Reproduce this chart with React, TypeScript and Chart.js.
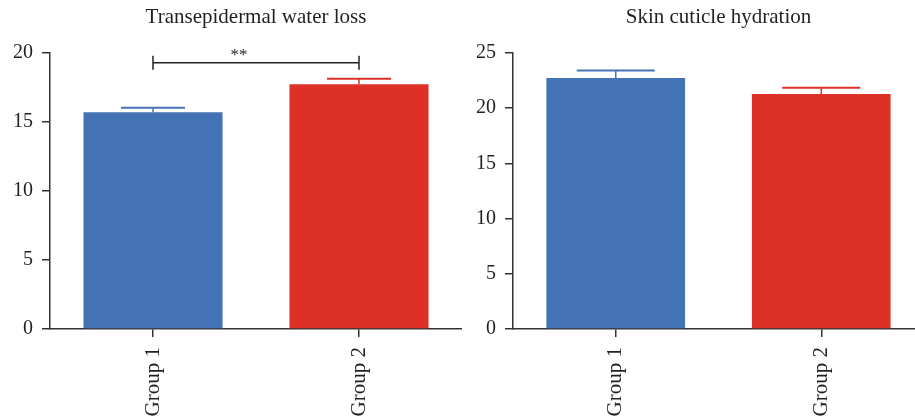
import React, { useEffect, useRef } from 'react';
import { Chart, registerables } from 'chart.js';

Chart.register(...registerables);

// ---- data ----
const groups = ['Group 1', 'Group 2'];
const twlMeans = [15.7, 17.73];
const twlErrors = [0.34, 0.41];
const twlMax = 20;
const hydrationMeans = [22.73, 21.28];
const hydrationErrors = [0.69, 0.57];
const hydrationMax = 25;
const tickStep = 5;
const twlSignificance = { from: 0, to: 1, value: 19.3, label: '**' };

const barColors = ['#4373b4', '#dd3128'];
const axisColor = '#333333';
const textColor = '#231f20';
const fontFamily = "'Liberation Serif', 'DejaVu Serif', serif";

const errorBarPlugin = {
  id: 'errorBars',
  afterDatasetsDraw(chart: any, _args: any, opts: any) {
    const errs: number[] = opts.errors || [];
    if (!errs.length) return;
    const { ctx } = chart;
    const meta = chart.getDatasetMeta(0);
    const yScale = chart.scales.y;
    const vals = chart.data.datasets[0].data as number[];
    ctx.save();
    meta.data.forEach((bar: any, i: number) => {
      const x = bar.x;
      const yv = yScale.getPixelForValue(vals[i]);
      const ye = yScale.getPixelForValue(vals[i] + errs[i]);
      const half = (opts.capWidth || 60) / 2;
      ctx.strokeStyle = opts.colors[i];
      ctx.lineWidth = 1.5;
      ctx.beginPath();
      ctx.moveTo(x, yv);
      ctx.lineTo(x, ye);
      ctx.stroke();
      ctx.lineWidth = 2;
      ctx.beginPath();
      ctx.moveTo(x - half, ye);
      ctx.lineTo(x + half, ye);
      ctx.stroke();
    });
    ctx.restore();
  },
};

const significancePlugin = {
  id: 'significance',
  afterDatasetsDraw(chart: any, _args: any, opts: any) {
    if (!opts || !opts.label) return;
    const { ctx } = chart;
    const xScale = chart.scales.x;
    const yScale = chart.scales.y;
    const x1 = xScale.getPixelForValue(opts.from);
    const x2 = xScale.getPixelForValue(opts.to);
    const y = yScale.getPixelForValue(opts.value);
    const t = 7;
    ctx.save();
    ctx.strokeStyle = '#222';
    ctx.lineWidth = 1.5;
    ctx.beginPath();
    ctx.moveTo(x1, y);
    ctx.lineTo(x2, y);
    ctx.moveTo(x1, y - t);
    ctx.lineTo(x1, y + t);
    ctx.moveTo(x2, y - t);
    ctx.lineTo(x2, y + t);
    ctx.stroke();
    ctx.fillStyle = textColor;
    ctx.font = `17px ${fontFamily}`;
    ctx.textAlign = 'center';
    ctx.textBaseline = 'middle';
    ctx.fillText(opts.label, (x1 + x2) / 2 - 17, y - 7);
    ctx.restore();
  },
};

function makeConfig(title: string, values: number[], errors: number[], max: number, yWidth: number, capWidth: number, sig: any) {
  return {
    type: 'bar',
    data: {
      labels: groups,
      datasets: [
        {
          data: values,
          backgroundColor: barColors,
          borderWidth: 0,
          categoryPercentage: 1,
          barPercentage: 0.675,
        },
      ],
    },
    plugins: [errorBarPlugin, significancePlugin],
    options: {
      animation: false,
      responsive: false,
      layout: { padding: { left: 0, right: 0, top: 0, bottom: 0 } },
      plugins: {
        legend: { display: false },
        tooltip: { enabled: false },
        title: {
          display: true,
          text: title,
          fullSize: false,
          color: textColor,
          font: { family: fontFamily, size: 21, weight: 'normal', lineHeight: 1.2 },
          padding: { top: 5, bottom: 22.8 },
        },
        errorBars: { errors, capWidth, colors: barColors },
        significance: sig || {},
      },
      scales: {
        x: {
          z: 1,
          grid: {
            display: true,
            offset: false,
            drawOnChartArea: false,
            drawTicks: true,
            tickLength: 8,
            tickColor: axisColor,
            lineWidth: 1.5,
          },
          border: { display: true, color: axisColor, width: 1.5 },
          ticks: {
            minRotation: 90,
            maxRotation: 90,
            padding: 10,
            color: textColor,
            font: { family: fontFamily, size: 21 },
          },
          afterFit: (scale: any) => {
            scale.height = 90;
          },
        },
        y: {
          min: 0,
          max,
          grid: {
            display: true,
            drawOnChartArea: false,
            drawTicks: true,
            tickLength: 8,
            tickColor: axisColor,
            lineWidth: 1.5,
          },
          border: { display: true, color: axisColor, width: 1.5 },
          ticks: {
            stepSize: tickStep,
            padding: 9,
            color: textColor,
            font: { family: fontFamily, size: 20 },
          },
          afterFit: (scale: any) => {
            scale.width = yWidth;
          },
        },
      },
    },
  } as any;
}

function BarPanel(props: { config: any; left: number; width: number }) {
  const ref = useRef<HTMLCanvasElement | null>(null);
  useEffect(() => {
    if (!ref.current) return;
    const chart = new Chart(ref.current, props.config);
    return () => chart.destroy();
  }, []);
  return (
    <canvas
      ref={ref}
      width={props.width}
      height={419}
      style={{ position: 'absolute', left: props.left, top: 0, width: props.width, height: 419 }}
    />
  );
}

export default function App() {
  const left = makeConfig('Transepidermal water loss', twlMeans, twlErrors, twlMax, 50, 64, twlSignificance);
  const right = makeConfig('Skin cuticle hydration', hydrationMeans, hydrationErrors, hydrationMax, 51, 78, null);
  return (
    <div
      style={{
        position: 'fixed',
        left: 0,
        top: 0,
        width: 915,
        height: 419,
        overflow: 'hidden',
        background: '#ffffff',
      }}
    >
      <BarPanel config={left} left={0} width={462} />
      <BarPanel config={right} left={462} width={462} />
    </div>
  );
}
